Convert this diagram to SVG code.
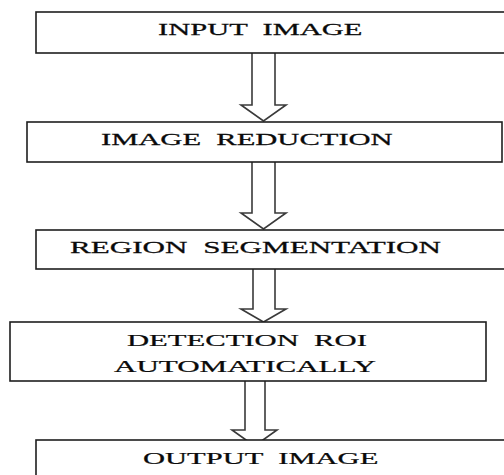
<svg xmlns="http://www.w3.org/2000/svg" width="504" height="475" viewBox="0 0 504 475">
  <style>
    .box { fill: #ffffff; stroke: #1e1e1e; stroke-width: 1.6; }
    .arrow { fill: #ffffff; stroke: #3a3a3a; stroke-width: 1.6; stroke-linejoin: miter; }
    .label { font-family: "Liberation Serif", "Times New Roman", serif; font-size: 17.5px; fill: #0a0a0a; stroke: #0a0a0a; stroke-width: 0.25; white-space: pre; }
  </style>
  <rect width="504" height="475" fill="#ffffff"/>
  <g id="connectors">
    <path class="arrow" d="M252,53 V105 H241 L263.5,121 L286,105 H275 V53"/>
    <path class="arrow" d="M252,162 V213 H241 L263.5,229 L286,213 H275 V162"/>
    <path class="arrow" d="M253,269 V309 H241 L263.5,322 L286,309 H275 V269"/>
    <path class="arrow" d="M245,381 V430 H232 L254.5,446 L277,430 H265 V381"/>
  </g>
  <g id="node-input">
    <rect class="box" x="36" y="12" width="490" height="41"/>
    <text class="label" xml:space="preserve" transform="translate(158,34.5) scale(1.743,1)">INPUT  IMAGE</text>
  </g>
  <g id="node-reduction">
    <rect class="box" x="27" y="122" width="475" height="40"/>
    <text class="label" xml:space="preserve" transform="translate(101,145) scale(1.746,1)">IMAGE  REDUCTION</text>
  </g>
  <g id="node-segmentation">
    <rect class="box" x="36" y="230" width="490" height="39"/>
    <text class="label" xml:space="preserve" transform="translate(70,252.7) scale(1.779,1)">REGION  SEGMENTATION</text>
  </g>
  <g id="node-detection">
    <rect class="box" x="10" y="322" width="476" height="59"/>
    <text class="label" xml:space="preserve" transform="translate(127,346) scale(1.751,1)">DETECTION  ROI</text>
    <text class="label" transform="translate(114,372.3) scale(1.774,1)">AUTOMATICALLY</text>
  </g>
  <g id="node-output">
    <rect class="box" x="36" y="440" width="490" height="60"/>
    <text class="label" xml:space="preserve" transform="translate(143,464) scale(1.747,1)">OUTPUT  IMAGE</text>
  </g>
</svg>
